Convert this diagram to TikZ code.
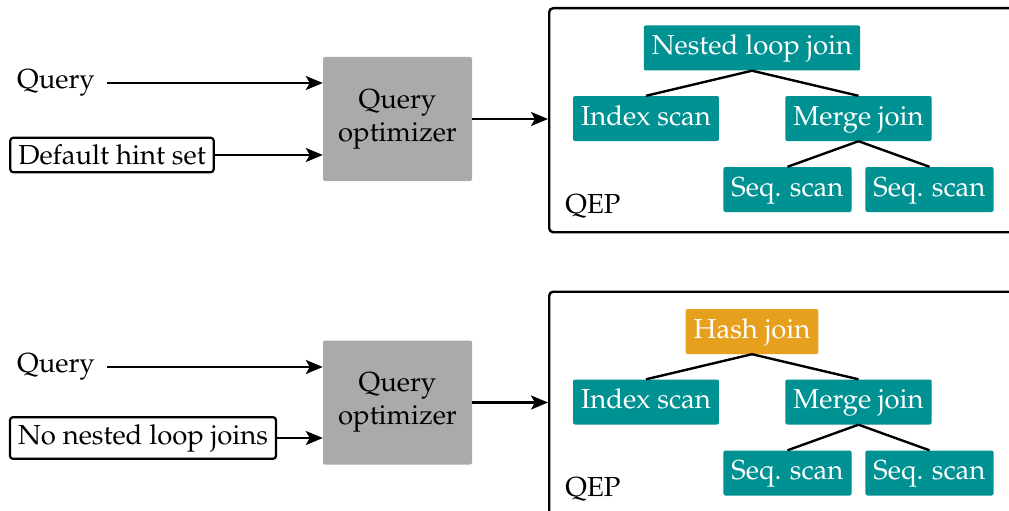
\documentclass[tikz,border=0pt]{standalone}
\usepackage[T1]{fontenc}
\usepackage{mathpazo}
\usetikzlibrary{arrows.meta}
\definecolor{planteal}{RGB}{0,145,147}
\definecolor{planorange}{RGB}{230,160,30}
\definecolor{optgray}{RGB}{170,170,170}
\tikzset{
  every node/.style={font=\fontsize{27.5}{33}\selectfont},
  opnode/.style={fill=planteal, text=white, rounded corners=2pt, inner xsep=8pt,
    inner ysep=0pt, minimum height=45pt, text height=19pt, text depth=6pt},
  hashnode/.style={opnode, fill=planorange},
  hintbox/.style={draw, line width=2.2pt, rounded corners=3pt, inner xsep=8pt, inner ysep=7pt},
  inlabel/.style={inner xsep=12pt, inner ysep=2pt},
  optbox/.style={fill=optgray, rounded corners=2pt, minimum width=149pt,
    minimum height=124pt, align=center},
  planbox/.style={draw, line width=2.4pt, rounded corners=4pt, anchor=north west,
    minimum width=490pt},
  flow/.style={line width=2.4pt, -{Stealth[length=17pt,width=14pt,inset=4pt]}},
  treeedge/.style={line width=2.4pt},
}
\begin{document}
\begin{tikzpicture}[x=1pt,y=-1pt]
\useasboundingbox (0,0) rectangle (1009,511);

% ---- default hint set ----
\node[inlabel] (q1) at (56,83) {Query};
\node[hintbox] (h1) at (112,155) {Default hint set};
\node[optbox] (o1) at (397.5,119) {Query\\optimizer};
\node[planbox, minimum height=224pt] (p1) at (548,7) {};
\draw[flow] (q1.east) -- (q1.east -| o1.west);
\draw[flow] (h1.east) -- (h1.east -| o1.west);
\draw[flow] (o1.east) -- (o1.east -| p1.west);

\node[opnode] (nl1) at (752,48) {Nested loop join};
\node[opnode] (ix1) at (646,118.5) {Index scan};
\node[opnode] (mj1) at (858.5,118.5) {Merge join};
\node[opnode] (sa1) at (787.5,189.5) {Seq. scan};
\node[opnode] (sb1) at (929.5,189.5) {Seq. scan};
\node (lab1) at (593,207) {QEP};
\draw[treeedge] (nl1.south) -- (ix1.north);
\draw[treeedge] (nl1.south) -- (mj1.north);
\draw[treeedge] (mj1.south) -- (sa1.north);
\draw[treeedge] (mj1.south) -- (sb1.north);

% ---- no nested loop joins ----
\node[inlabel] (q2) at (56,367) {Query};
\node[hintbox] (h2) at (143,438) {No nested loop joins};
\node[optbox] (o2) at (397.5,402.5) {Query\\optimizer};
\node[planbox, minimum height=240pt] (p2) at (548,290.5) {};
\draw[flow] (q2.east) -- (q2.east -| o2.west);
\draw[flow] (h2.east) -- (h2.east -| o2.west);
\draw[flow] (o2.east) -- (o2.east -| p2.west);

\node[hashnode] (hj2) at (752,331.5) {Hash join};
\node[opnode] (ix2) at (646,402) {Index scan};
\node[opnode] (mj2) at (858.5,402) {Merge join};
\node[opnode] (sa2) at (787.5,473) {Seq. scan};
\node[opnode] (sb2) at (929.5,473) {Seq. scan};
\node (lab2) at (593,490) {QEP};
\draw[treeedge] (hj2.south) -- (ix2.north);
\draw[treeedge] (hj2.south) -- (mj2.north);
\draw[treeedge] (mj2.south) -- (sa2.north);
\draw[treeedge] (mj2.south) -- (sb2.north);
\end{tikzpicture}
\end{document}
